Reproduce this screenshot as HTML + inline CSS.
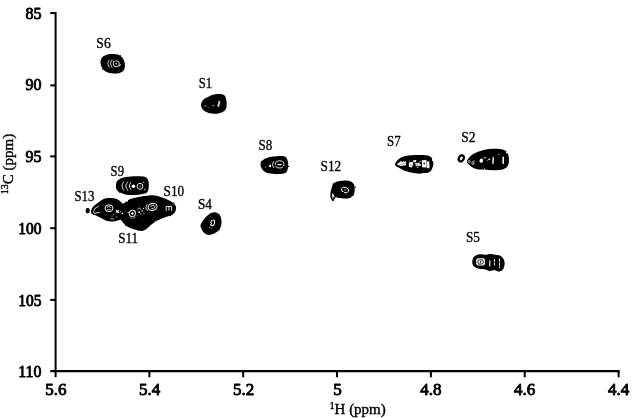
<!DOCTYPE html>
<html lang="en"><head><meta charset="utf-8"><title>HSQC spectrum</title>
<style>
html,body{margin:0;padding:0;background:#fff;}
body{width:640px;height:418px;overflow:hidden;}
svg{display:block;}
text{font-family:"Liberation Serif","Times New Roman",serif;fill:#000;}
.tk{font-size:17px;stroke:#000;stroke-width:0.9px;stroke-linejoin:round;}
.sl{font-size:15px;stroke:#000;stroke-width:0.35px;}
.at{font-size:15px;stroke:#000;stroke-width:0.4px;}
</style></head><body>
<svg width="640" height="418" viewBox="0 0 640 418">
<rect width="640" height="418" fill="#fff"/>
<g id="axes">
<path d="M55.6 12.1 V377.3" stroke="#000" stroke-width="2" fill="none"/>
<path d="M50.2 371.1 H619.6" stroke="#000" stroke-width="2.2" fill="none"/>
<path d="M50.2 13.1 H55.6" stroke="#000" stroke-width="2" fill="none"/>
<path d="M50.2 85.4 H55.6" stroke="#000" stroke-width="2" fill="none"/>
<path d="M50.2 156.4 H55.6" stroke="#000" stroke-width="2" fill="none"/>
<path d="M50.2 228.2 H55.6" stroke="#000" stroke-width="2" fill="none"/>
<path d="M50.2 299.9 H55.6" stroke="#000" stroke-width="2" fill="none"/>
<path d="M149.4 371.1 V377.3" stroke="#000" stroke-width="2" fill="none"/>
<path d="M243.2 371.1 V377.3" stroke="#000" stroke-width="2" fill="none"/>
<path d="M337.0 371.1 V377.3" stroke="#000" stroke-width="2" fill="none"/>
<path d="M430.9 371.1 V377.3" stroke="#000" stroke-width="2" fill="none"/>
<path d="M524.7 371.1 V377.3" stroke="#000" stroke-width="2" fill="none"/>
<path d="M618.6 371.1 V377.3" stroke="#000" stroke-width="2" fill="none"/>
</g>
<g id="peaks" filter="url(#soft)">
<path d="M105.00 55.40C106.59 54.73 108.75 54.00 111.25 54.00C113.75 54.00 117.79 54.08 120.00 55.40C122.21 56.72 123.83 59.47 124.50 61.90C125.17 64.33 125.17 68.08 124.00 70.00C122.83 71.92 120.20 72.97 117.50 73.40C114.80 73.83 110.32 73.40 107.80 72.60C105.28 71.80 103.62 70.28 102.40 68.60C101.18 66.92 100.62 64.27 100.50 62.50C100.38 60.73 100.95 59.18 101.70 58.00C102.45 56.82 103.41 56.07 105.00 55.40Z" fill="#000" />
<path d="M109.30 60.20C109.07 60.75 107.90 62.37 107.90 63.50C107.90 64.63 109.07 66.42 109.30 67.00" fill="none" stroke="#fff" stroke-width="0.9" stroke-linecap="round"/>
<path d="M112.00 60.00C111.77 60.58 110.60 62.30 110.60 63.50C110.60 64.70 111.77 66.58 112.00 67.20" fill="none" stroke="#fff" stroke-width="0.9" stroke-linecap="round"/>
<ellipse cx="116.30" cy="63.80" rx="3.10" ry="3.00" fill="none" stroke="#fff" stroke-width="0.9" transform="rotate(0 116.30 63.80)"/>
<circle cx="116.30" cy="63.80" r="0.80" fill="#fff"/>
<path d="M201.00 104.60C201.10 102.90 202.43 100.87 203.60 99.60C204.77 98.33 206.60 97.77 208.00 97.00C209.40 96.23 210.21 95.52 212.00 95.00C213.79 94.48 216.65 93.83 218.75 93.90C220.85 93.97 223.29 93.97 224.60 95.40C225.91 96.83 226.48 100.07 226.60 102.50C226.72 104.93 226.73 108.15 225.30 110.00C223.87 111.85 220.76 113.12 218.00 113.60C215.24 114.08 211.25 113.53 208.75 112.90C206.25 112.27 204.29 111.18 203.00 109.80C201.71 108.42 200.90 106.30 201.00 104.60Z" fill="#000" />
<line x1="219.40" y1="101.60" x2="218.30" y2="106.00" stroke="#d0d0d0" stroke-width="1.9" stroke-linecap="round"/>
<circle cx="213.20" cy="105.80" r="0.80" fill="#bbb"/>
<circle cx="205.20" cy="106.30" r="1.00" fill="#666"/>
<circle cx="208.50" cy="107.50" r="0.70" fill="#555"/>
<path d="M260.50 165.00C260.37 163.37 261.32 161.77 262.40 160.60C263.48 159.43 265.23 158.67 267.00 158.00C268.77 157.33 270.42 156.93 273.00 156.60C275.58 156.27 280.18 155.70 282.50 156.00C284.82 156.30 285.95 156.80 286.90 158.40C287.85 160.00 288.35 163.23 288.20 165.60C288.05 167.97 287.70 171.18 286.00 172.60C284.30 174.02 280.83 173.98 278.00 174.10C275.17 174.22 271.47 173.92 269.00 173.30C266.53 172.68 264.62 171.78 263.20 170.40C261.78 169.02 260.63 166.63 260.50 165.00Z" fill="#000" />
<ellipse cx="279.60" cy="164.40" rx="4.30" ry="3.60" fill="none" stroke="#fff" stroke-width="0.9" transform="rotate(0 279.60 164.40)"/>
<line x1="278.00" y1="164.60" x2="281.30" y2="164.60" stroke="#fff" stroke-width="1.1" stroke-linecap="round"/>
<path d="M273.80 161.50C273.58 162.00 272.50 163.50 272.50 164.50C272.50 165.50 273.58 167.00 273.80 167.50" fill="none" stroke="#fff" stroke-width="0.9" stroke-linecap="round"/>
<path d="M271 164.2 L268.2 166 L271 167.6Z" fill="#fff"/>
<circle cx="265.60" cy="167.00" r="0.60" fill="#ddd"/>
<path d="M331.90 186.90C332.42 185.43 332.40 184.08 333.75 183.10C335.10 182.12 337.56 181.40 340.00 181.00C342.44 180.60 346.13 180.24 348.40 180.70C350.67 181.16 352.55 182.20 353.60 183.75C354.65 185.30 354.80 187.92 354.70 190.00C354.60 192.08 354.20 194.83 353.00 196.25C351.80 197.67 349.88 198.19 347.50 198.50C345.12 198.81 340.73 198.27 338.75 198.10C336.77 197.93 336.54 196.97 335.60 197.50C334.66 198.03 333.93 201.25 333.10 201.25C332.27 201.25 331.02 199.06 330.60 197.50C330.18 195.94 330.38 193.67 330.60 191.90C330.82 190.13 331.38 188.37 331.90 186.90Z" fill="#000" />
<ellipse cx="345.00" cy="190.00" rx="3.60" ry="2.70" fill="none" stroke="#fff" stroke-width="0.9" transform="rotate(20 345.00 190.00)"/>
<circle cx="345.00" cy="190.00" r="0.70" fill="#ccc"/>
<path d="M332 193 L334.6 196 L332.4 198.6Z" fill="#fff"/>
<path d="M395.00 164.80C394.75 163.23 397.25 160.40 398.70 159.00C400.15 157.60 401.72 157.02 403.70 156.40C405.68 155.78 407.28 155.52 410.60 155.30C413.92 155.08 420.27 154.85 423.60 155.10C426.93 155.35 428.98 155.70 430.60 156.80C432.22 157.90 433.00 159.83 433.30 161.70C433.60 163.57 433.10 166.25 432.40 168.00C431.70 169.75 430.80 171.33 429.10 172.20C427.40 173.07 424.15 172.97 422.20 173.20C420.25 173.43 419.92 173.88 417.40 173.60C414.88 173.32 409.97 172.37 407.10 171.50C404.23 170.63 402.22 169.52 400.20 168.40C398.18 167.28 395.25 166.37 395.00 164.80Z" fill="#000" />
<path d="M396.6 164.6 L400.6 161.2 L406.0 161.4 L406.2 165.2 L401 166.0Z" fill="#f2f2f2"/>
<line x1="400.50" y1="164.40" x2="404.50" y2="163.60" stroke="#777" stroke-width="0.6" stroke-linecap="round"/>
<path d="M408.8 162.6 L412.8 161.8 L413.2 164.6 L411.8 167.6 L409.0 167.0Z" fill="#eee"/>
<circle cx="410.90" cy="165.00" r="0.60" fill="#444"/>
<path d="M413.2 160.0 L416.4 159.9 L416 162.2 L413.4 162.2Z" fill="#eee"/>
<path d="M415.0 163.0 L419.8 162.6 L420 166.0 L415.8 166.3Z" fill="#c8c8c8"/>
<circle cx="417.60" cy="167.40" r="0.70" fill="#aaa"/>
<circle cx="420.60" cy="161.40" r="0.60" fill="#aaa"/>
<path d="M421.8 160.2 L426.5 160.0 L426.7 167.5 L422.0 167.3Z" fill="#fff"/>
<circle cx="424.30" cy="163.40" r="0.90" fill="#222"/>
<path d="M427.0 161.4 L429.3 161.4 L429.5 168.2 L427.1 168.2Z" fill="#fff"/>
<path d="M466.90 161.00C467.34 159.62 469.22 157.25 470.90 155.80C472.58 154.35 474.67 153.32 477.00 152.30C479.33 151.28 481.83 150.28 484.90 149.70C487.97 149.12 492.20 148.73 495.40 148.80C498.60 148.87 501.98 149.15 504.10 150.10C506.22 151.05 507.30 152.60 508.10 154.50C508.90 156.40 509.05 159.47 508.90 161.50C508.75 163.53 508.43 165.32 507.20 166.70C505.97 168.08 503.92 169.22 501.50 169.80C499.08 170.38 495.47 170.27 492.70 170.20C489.93 170.13 487.37 169.53 484.90 169.40C482.43 169.27 480.02 169.77 477.90 169.40C475.78 169.03 473.81 168.08 472.20 167.20C470.59 166.32 469.13 165.13 468.25 164.10C467.37 163.07 466.46 162.38 466.90 161.00Z" fill="#000" />
<ellipse cx="461.30" cy="158.40" rx="2.30" ry="3.20" fill="#fff" stroke="#000" stroke-width="2.3" transform="rotate(28 461.30 158.40)"/>
<ellipse cx="469.20" cy="161.50" rx="1.00" ry="1.20" fill="none" stroke="#fff" stroke-width="0.7" transform="rotate(0 469.20 161.50)"/>
<ellipse cx="473.00" cy="163.00" rx="1.20" ry="1.50" fill="none" stroke="#fff" stroke-width="0.7" transform="rotate(0 473.00 163.00)"/>
<circle cx="474.60" cy="160.40" r="0.50" fill="#ccc"/>
<ellipse cx="481.3" cy="160.6" rx="1.8" ry="2.2" fill="#fff" transform="rotate(20 481.3 160.6)"/>
<circle cx="485.00" cy="157.80" r="0.80" fill="#fff"/>
<circle cx="489.20" cy="159.30" r="0.90" fill="#fff"/>
<circle cx="487.20" cy="160.60" r="0.50" fill="#bbb"/>
<line x1="493.20" y1="157.60" x2="493.00" y2="163.20" stroke="#fff" stroke-width="1.4" stroke-linecap="round"/>
<line x1="503.20" y1="157.20" x2="503.20" y2="163.20" stroke="#fff" stroke-width="1.5" stroke-linecap="round"/>
<circle cx="498.90" cy="154.50" r="0.60" fill="#fff"/>
<path d="M472.25 261.90C472.25 260.34 472.67 258.15 473.75 256.90C474.83 255.65 476.67 254.76 478.75 254.40C480.83 254.04 484.38 254.82 486.25 254.75C488.12 254.68 488.54 254.00 490.00 254.00C491.46 254.00 493.33 254.48 495.00 254.75C496.67 255.02 498.54 254.82 500.00 255.60C501.46 256.38 502.98 257.93 503.75 259.40C504.52 260.87 504.81 262.63 504.60 264.40C504.39 266.17 503.58 268.82 502.50 270.00C501.42 271.18 499.45 271.50 498.10 271.50C496.75 271.50 495.75 270.08 494.40 270.00C493.05 269.92 491.47 271.10 490.00 271.00C488.53 270.90 487.48 269.77 485.60 269.40C483.73 269.02 480.73 269.27 478.75 268.75C476.77 268.23 474.83 267.39 473.75 266.25C472.67 265.11 472.25 263.46 472.25 261.90Z" fill="#000" />
<rect x="476.3" y="258.2" width="8.6" height="7.4" rx="2" fill="#fff"/>
<rect x="478.0" y="259.8" width="5.2" height="4.2" rx="1.4" fill="none" stroke="#000" stroke-width="0.9"/>
<circle cx="480.60" cy="261.90" r="0.80" fill="#000"/>
<line x1="489.80" y1="260.80" x2="489.80" y2="266.00" stroke="#fff" stroke-width="1.1" stroke-linecap="round"/>
<line x1="494.40" y1="259.60" x2="494.40" y2="265.60" stroke="#fff" stroke-width="1.0" stroke-linecap="round" stroke-dasharray="2 1.6"/>
<line x1="499.40" y1="259.00" x2="499.40" y2="267.80" stroke="#fff" stroke-width="1.0" stroke-linecap="round" stroke-dasharray="2.4 1.6"/>
<path d="M200.60 225.00C201.02 223.55 202.39 221.17 203.75 219.40C205.11 217.63 207.08 215.59 208.75 214.40C210.42 213.21 211.97 212.25 213.75 212.25C215.53 212.25 218.11 212.90 219.40 214.40C220.69 215.90 221.40 218.86 221.50 221.25C221.60 223.64 221.08 226.78 220.00 228.75C218.92 230.72 216.88 232.06 215.00 233.10C213.12 234.14 210.62 235.10 208.75 235.00C206.88 234.90 205.00 233.65 203.75 232.50C202.50 231.35 201.78 229.35 201.25 228.10C200.72 226.85 200.18 226.45 200.60 225.00Z" fill="#000" />
<ellipse cx="212.60" cy="222.80" rx="1.90" ry="2.90" fill="none" stroke="#fff" stroke-width="1.0" transform="rotate(15 212.60 222.80)"/>
<circle cx="209.60" cy="227.50" r="0.60" fill="#ccc"/>
<circle cx="211.50" cy="228.30" r="0.50" fill="#ccc"/>
<path d="M116.00 185.60C116.10 184.03 116.21 181.95 117.50 180.60C118.79 179.25 121.04 178.22 123.75 177.50C126.46 176.78 130.42 176.40 133.75 176.25C137.08 176.10 141.36 175.97 143.75 176.60C146.14 177.22 147.27 178.28 148.10 180.00C148.93 181.72 148.95 184.82 148.75 186.90C148.55 188.98 148.36 191.25 146.90 192.50C145.44 193.75 143.03 193.98 140.00 194.40C136.97 194.82 131.88 195.22 128.75 195.00C125.62 194.78 123.22 193.93 121.25 193.10C119.28 192.27 117.78 191.25 116.90 190.00C116.03 188.75 115.90 187.17 116.00 185.60Z" fill="#000" />
<path d="M123.60 182.00C123.33 182.63 122.00 184.47 122.00 185.80C122.00 187.13 123.33 189.30 123.60 190.00" fill="none" stroke="#fff" stroke-width="0.9" stroke-linecap="round"/>
<path d="M127.60 182.00C127.30 182.67 125.77 184.60 125.80 186.00C125.83 187.40 127.47 189.67 127.80 190.40" fill="none" stroke="#fff" stroke-width="0.9" stroke-linecap="round"/>
<path d="M131.00 182.40C130.73 183.00 129.40 184.80 129.40 186.00C129.40 187.20 130.73 189.00 131.00 189.60" fill="none" stroke="#fff" stroke-width="0.8" stroke-linecap="round"/>
<circle cx="133.40" cy="186.20" r="1.80" fill="#fff"/>
<ellipse cx="140.00" cy="186.30" rx="2.90" ry="3.00" fill="none" stroke="#fff" stroke-width="0.9" transform="rotate(0 140.00 186.30)"/>
<circle cx="140.20" cy="186.30" r="0.70" fill="#ccc"/>
<circle cx="143.80" cy="182.40" r="0.60" fill="#fff"/>
<circle cx="144.60" cy="189.60" r="0.60" fill="#fff"/>
<path d="M91.00 211.90C91.00 210.73 91.55 208.63 92.60 207.20C93.65 205.77 95.61 204.60 97.30 203.30C98.99 202.00 101.07 200.28 102.75 199.40C104.43 198.52 105.32 198.15 107.40 198.00C109.48 197.85 113.17 198.02 115.25 198.50C117.33 198.98 118.65 200.05 119.90 200.90C121.15 201.75 121.70 203.47 122.75 203.60C123.80 203.73 124.98 202.45 126.20 201.70C127.42 200.95 128.02 199.88 130.10 199.10C132.18 198.32 135.97 197.55 138.70 197.00C141.43 196.45 144.16 196.10 146.50 195.80C148.84 195.50 150.15 194.93 152.75 195.20C155.35 195.47 159.11 196.40 162.10 197.40C165.09 198.40 168.48 199.83 170.70 201.20C172.92 202.57 174.53 204.22 175.40 205.60C176.27 206.98 176.28 208.07 175.90 209.50C175.52 210.93 174.88 212.90 173.10 214.20C171.32 215.50 167.87 216.25 165.25 217.30C162.63 218.35 159.48 219.45 157.40 220.50C155.32 221.55 154.57 222.17 152.75 223.60C150.93 225.03 148.32 227.88 146.50 229.10C144.68 230.32 143.62 230.78 141.80 230.90C139.98 231.02 137.94 230.50 135.60 229.80C133.26 229.10 129.83 227.87 127.75 226.70C125.67 225.53 124.27 223.93 123.10 222.80C121.92 221.67 122.01 220.15 120.70 219.90C119.39 219.65 117.20 221.07 115.25 221.30C113.30 221.53 111.08 221.70 109.00 221.30C106.92 220.90 104.83 219.82 102.75 218.90C100.67 217.98 98.19 216.58 96.50 215.80C94.81 215.02 93.52 214.85 92.60 214.20C91.68 213.55 91.00 213.07 91.00 211.90Z" fill="#000" />
<rect x="85.8" y="207.9" width="3.8" height="5.4" rx="1.5" fill="#000"/>
<path d="M98.20 206.40C97.57 206.87 95.07 208.07 94.40 209.20C93.73 210.33 93.37 212.70 94.20 213.20C95.03 213.70 98.53 212.37 99.40 212.20" fill="none" stroke="#fff" stroke-width="1.0" stroke-linecap="round"/>
<ellipse cx="109.00" cy="208.20" rx="4.00" ry="3.40" fill="none" stroke="#fff" stroke-width="1.0" transform="rotate(0 109.00 208.20)"/>
<path d="M107.20 207.60C107.50 207.40 108.40 206.40 109.00 206.40C109.60 206.40 110.50 207.40 110.80 207.60" fill="none" stroke="#fff" stroke-width="0.8" stroke-linecap="round"/>
<line x1="107.60" y1="209.60" x2="110.40" y2="209.60" stroke="#fff" stroke-width="0.7" stroke-linecap="round"/>
<path d="M115.6 209.4 L117.4 210.6 L119.4 209.8 L118.4 211.6 L119.8 213 L117.6 212.6 L116 213.6 L116.4 211.6Z" fill="#fff"/>
<circle cx="122.30" cy="213.40" r="0.80" fill="#fff"/>
<circle cx="120.40" cy="211.60" r="0.50" fill="#fff"/>
<line x1="110.60" y1="218.90" x2="113.60" y2="218.90" stroke="#aaa" stroke-width="1.0" stroke-linecap="round"/>
<circle cx="112.00" cy="216.00" r="0.50" fill="#ccc"/>
<circle cx="116.50" cy="217.00" r="0.50" fill="#ccc"/>
<circle cx="113.80" cy="214.60" r="0.50" fill="#ddd"/>
<ellipse cx="132.40" cy="213.50" rx="3.20" ry="3.20" fill="none" stroke="#fff" stroke-width="1.0" transform="rotate(0 132.40 213.50)"/>
<circle cx="132.40" cy="213.50" r="1.20" fill="#fff"/>
<circle cx="128.20" cy="212.40" r="0.60" fill="#fff"/>
<path d="M129.60 217.40C130.10 217.57 131.63 218.47 132.60 218.40C133.57 218.33 134.93 217.23 135.40 217.00" fill="none" stroke="#ccc" stroke-width="0.6" stroke-linecap="round"/>
<path d="M137.60 209.40C137.90 209.17 138.83 207.97 139.40 208.00C139.97 208.03 140.73 209.33 141.00 209.60" fill="none" stroke="#fff" stroke-width="0.9" stroke-linecap="round"/>
<circle cx="139.20" cy="212.20" r="0.90" fill="#fff"/>
<circle cx="142.20" cy="211.00" r="0.80" fill="#fff"/>
<circle cx="140.80" cy="214.20" r="0.60" fill="#fff"/>
<circle cx="137.20" cy="215.80" r="0.50" fill="#ccc"/>
<circle cx="144.00" cy="213.20" r="0.60" fill="#ddd"/>
<circle cx="143.60" cy="208.40" r="0.60" fill="#fff"/>
<ellipse cx="152.60" cy="206.90" rx="4.50" ry="3.50" fill="none" stroke="#fff" stroke-width="1.0" transform="rotate(-15 152.60 206.90)"/>
<ellipse cx="152.80" cy="206.90" rx="2.10" ry="1.50" fill="none" stroke="#fff" stroke-width="0.8" transform="rotate(-15 152.80 206.90)"/>
<path d="M147.20 204.60C146.98 205.10 145.83 206.63 145.90 207.60C145.97 208.57 147.32 209.93 147.60 210.40" fill="none" stroke="#fff" stroke-width="0.9" stroke-linecap="round"/>
<path d="M166.2 211 L166.2 206.4 L171.6 206.4 L171.6 211 M168.9 206.4 L168.9 210.6" fill="none" stroke="#fff" stroke-width="0.9"/>
<line x1="154.80" y1="221.50" x2="157.00" y2="221.00" stroke="#aaa" stroke-width="0.8" stroke-linecap="round"/>
</g>
<g id="labels">
<text class="tk" x="41.4" y="18.9" text-anchor="end" textLength="16.0" lengthAdjust="spacingAndGlyphs">85</text>
<text class="tk" x="41.4" y="90.4" text-anchor="end" textLength="16.0" lengthAdjust="spacingAndGlyphs">90</text>
<text class="tk" x="41.4" y="162.2" text-anchor="end" textLength="16.0" lengthAdjust="spacingAndGlyphs">95</text>
<text class="tk" x="41.4" y="234.0" text-anchor="end" textLength="23.2" lengthAdjust="spacingAndGlyphs">100</text>
<text class="tk" x="41.4" y="305.7" text-anchor="end" textLength="23.2" lengthAdjust="spacingAndGlyphs">105</text>
<text class="tk" x="41.4" y="376.9" text-anchor="end" textLength="23.2" lengthAdjust="spacingAndGlyphs">110</text>
<text class="tk" x="55.9" y="394.9" text-anchor="middle">5.6</text>
<text class="tk" x="149.7" y="394.9" text-anchor="middle">5.4</text>
<text class="tk" x="243.5" y="394.9" text-anchor="middle">5.2</text>
<text class="tk" x="337.5" y="394.9" text-anchor="middle">5</text>
<text class="tk" x="430.9" y="394.9" text-anchor="middle">4.8</text>
<text class="tk" x="524.7" y="394.9" text-anchor="middle">4.6</text>
<text class="tk" x="618.6" y="394.9" text-anchor="middle">4.4</text>
<text class="sl" x="96.3" y="48.0" textLength="14.4" lengthAdjust="spacingAndGlyphs">S6</text>
<text class="sl" x="198.8" y="87.5" textLength="13.4" lengthAdjust="spacingAndGlyphs">S1</text>
<text class="sl" x="258.5" y="150.0" textLength="13.8" lengthAdjust="spacingAndGlyphs">S8</text>
<text class="sl" x="320.6" y="171.0" textLength="20.6" lengthAdjust="spacingAndGlyphs">S12</text>
<text class="sl" x="387.0" y="145.7" textLength="13.6" lengthAdjust="spacingAndGlyphs">S7</text>
<text class="sl" x="461.3" y="141.9" textLength="14.3" lengthAdjust="spacingAndGlyphs">S2</text>
<text class="sl" x="466.0" y="242.2" textLength="14.0" lengthAdjust="spacingAndGlyphs">S5</text>
<text class="sl" x="198.0" y="209.4" textLength="14.0" lengthAdjust="spacingAndGlyphs">S4</text>
<text class="sl" x="110.6" y="176.2" textLength="13.4" lengthAdjust="spacingAndGlyphs">S9</text>
<text class="sl" x="74.4" y="200.6" textLength="20.0" lengthAdjust="spacingAndGlyphs">S13</text>
<text class="sl" x="163.6" y="195.6" textLength="20.6" lengthAdjust="spacingAndGlyphs">S10</text>
<text class="sl" x="118.2" y="242.6" textLength="20.0" lengthAdjust="spacingAndGlyphs">S11</text>
<text class="at" x="329.8" y="413.6"><tspan font-size="9.5" dy="-5">1</tspan><tspan dy="5">H (ppm)</tspan></text>
<text class="at" transform="translate(13.3 194.2) rotate(-90)"><tspan font-size="10" dy="-5">13</tspan><tspan dy="5">C (ppm)</tspan></text>
</g>
<defs><filter id="soft" x="-5%" y="-5%" width="110%" height="110%" color-interpolation-filters="sRGB"><feTurbulence type="fractalNoise" baseFrequency="0.22" numOctaves="2" seed="7" result="n"/><feDisplacementMap in="SourceGraphic" in2="n" scale="1.8" xChannelSelector="R" yChannelSelector="G" result="d"/><feGaussianBlur in="d" stdDeviation="0.4"/></filter></defs>
</svg>
</body></html>
